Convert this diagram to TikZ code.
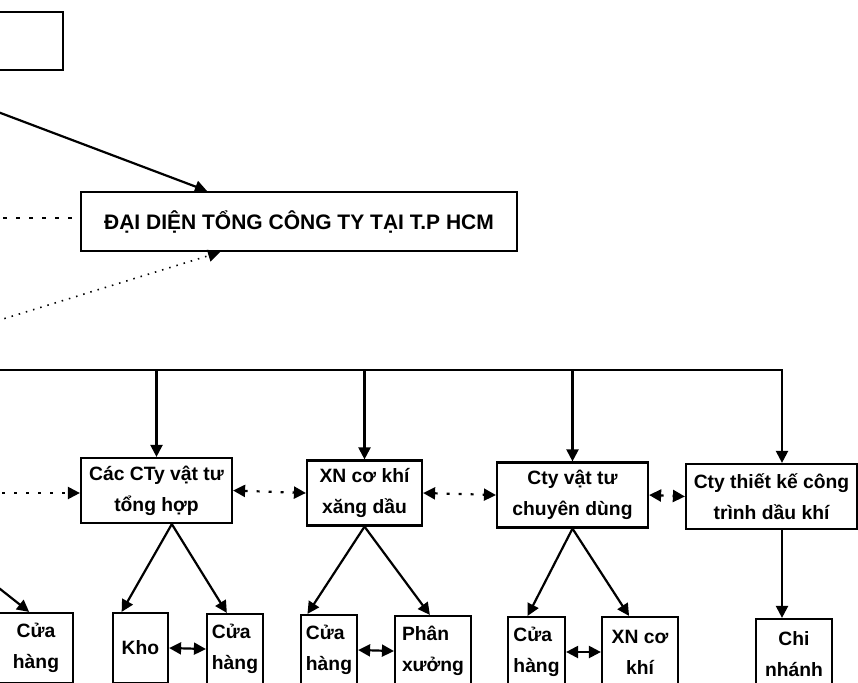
\documentclass[tikz,border=0pt]{standalone}
\usepackage{fontspec}
\setmainfont{Liberation Sans}
\usetikzlibrary{arrows.meta, positioning, calc}

\tikzset{
  unitbox/.style={draw, line width=2.2pt, inner sep=0pt, align=center, font=\bfseries\fontsize{19.3}{31}\selectfont},
  midbox/.style={unitbox, minimum height=65pt},
  lowbox/.style={unitbox, minimum height=70pt},
  link/.style={line width=2.2pt, -{Triangle[length=12pt,width=12pt]}},
  twoway/.style={line width=2.2pt, {Triangle[length=12pt,width=12pt]}-{Triangle[length=12pt,width=12pt]}},
  dotlink/.style={line width=2.2pt, dash pattern=on 3pt off 9pt}
}

\begin{document}
\begin{tikzpicture}[x=1pt, y=-1pt]
\useasboundingbox (0,0) rectangle (858,682);

% upper level
\node[unitbox, minimum width=103pt, minimum height=58pt] (tongcty) at (11.5,41) {};
\node[unitbox, font=\bfseries\fontsize{21}{25}\selectfont, minimum width=436pt, minimum height=59pt] (daidien) at (299,221.5) {ĐẠI DIỆN TỔNG CÔNG TY TẠI T.P HCM};

% middle level
\node[midbox, minimum width=151pt] (ctyth) at (156.5,490.5) {Các CTy vật tư\\tổng hợp};
\node[midbox, minimum width=115pt] (xnck) at (364.5,493) {XN cơ khí\\xăng dầu};
\node[midbox, minimum width=151pt] (ctycd) at (572.5,495) {Cty vật tư\\chuyên dùng};
\node[midbox, minimum width=171pt] (ctytk) at (771.5,496.5) {Cty thiết kế công\\trình dầu khí};

% lower level
\node[lowbox, minimum width=74pt] (ch0) at (36,648) {Cửa\\hàng};
\node[lowbox, minimum width=55pt] (kho) at (140.5,648) {Kho};
\node[lowbox, minimum width=56pt, align=left] (ch1) at (235,649) {Cửa\\hàng};
\node[lowbox, minimum width=56pt, align=left] (ch2) at (329,650) {Cửa\\hàng};
\node[lowbox, minimum width=76pt, align=left] (px) at (433,651) {Phân\\xưởng};
\node[lowbox, minimum width=57pt, align=left] (ch3) at (536.5,652) {Cửa\\hàng};
\node[lowbox, minimum width=76pt] (xnk) at (640,652) {XN cơ\\khí};
\node[lowbox, minimum width=76pt] (cn) at (794,654) {Chi\\nhánh};

% free ends outside the picture
\coordinate (fromA) at (-10,109);
\coordinate (fromB) at (-10,218);
\coordinate (fromC) at (-10,323);
\coordinate (busL) at (-10,370);
\coordinate (busR) at (782,370);
\coordinate (fromD) at (-10,493);
\coordinate (fromE) at (-10,581);

\draw[link] (fromA) -- ($(daidien.north west)!0.29!(daidien.north east)$);
\draw[line width=2.2pt, dash pattern=on 4pt off 9pt] (fromB) -- (fromB -| daidien.west);
\draw[line width=1.6pt, dash pattern=on 1.5pt off 6pt, -{Triangle[length=12pt,width=12pt]}] (fromC) -- ($(daidien.south west)!0.32!(daidien.south east)$);

\draw[link] (busL) -- (busR) -- (busR |- ctytk.north);
\draw[link] (ctyth.north |- busL) -- (ctyth.north);
\draw[link] (xnck.north |- busL) -- (xnck.north);
\draw[link] (ctycd.north |- busL) -- (ctycd.north);

\draw[dotlink, -{Triangle[length=12pt,width=12pt]}] (fromD) -- (fromD -| ctyth.west);
\draw[dotlink, twoway] (ctyth.east) -- (xnck.west);
\draw[dotlink, twoway] (xnck.east) -- (ctycd.west);
\draw[dotlink, twoway] (ctycd.east) -- (ctytk.west);

\draw[link] (fromE) -- ($(ch0.north west)!0.41!(ch0.north east)$);
\draw[link] ($(ctyth.south west)!0.6!(ctyth.south east)$) -- ($(kho.north west)!0.17!(kho.north east)$);
\draw[link] ($(ctyth.south west)!0.6!(ctyth.south east)$) -- ($(ch1.north west)!0.36!(ch1.north east)$);
\draw[link] (xnck.south) -- ($(ch2.north west)!0.13!(ch2.north east)$);
\draw[link] (xnck.south) -- ($(px.north west)!0.46!(px.north east)$);
\draw[link] (ctycd.south) -- ($(ch3.north west)!0.35!(ch3.north east)$);
\draw[link] (ctycd.south) -- ($(xnk.north west)!0.36!(xnk.north east)$);
\draw[link] (busR |- ctytk.south) -- (busR |- cn.north);

\draw[twoway] (kho.east) -- (ch1.west);
\draw[twoway] (ch2.east) -- (px.west);
\draw[twoway] (ch3.east) -- (xnk.west);
\end{tikzpicture}
\end{document}
